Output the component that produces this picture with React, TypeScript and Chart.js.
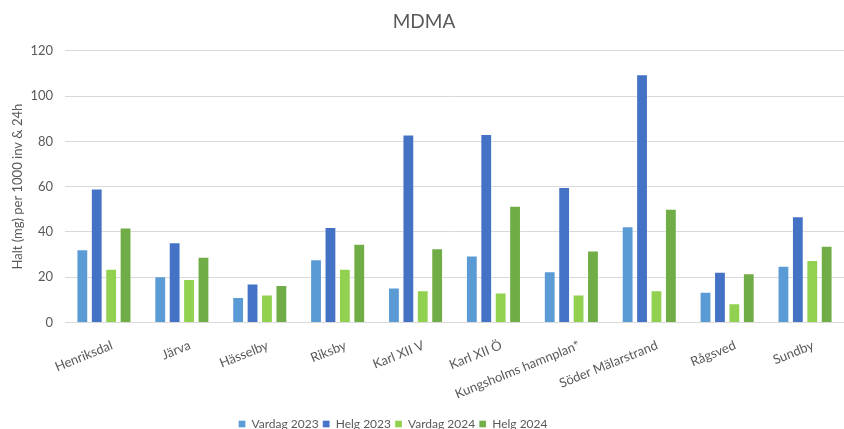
import React, { useEffect, useRef } from "react";
import { Chart, registerables } from "chart.js";

Chart.register(...registerables);

const categories = [
  "Henriksdal",
  "Järva",
  "Hässelby",
  "Riksby",
  "Karl XII V",
  "Karl XII Ö",
  "Kungsholms hamnplan*",
  "Söder Mälarstrand",
  "Rågsved",
  "Sundby",
];

const vardag2023 = [32.4, 20.4, 11.3, 27.9, 15.5, 29.6, 22.7, 42.5, 13.6, 25.1];
const helg2023 = [59.2, 35.4, 17.2, 42.2, 83.0, 83.3, 59.9, 109.6, 22.4, 46.9];
const vardag2024 = [23.7, 19.2, 12.4, 23.7, 14.3, 13.3, 12.4, 14.3, 8.5, 27.6];
const helg2024 = [42.0, 29.0, 16.6, 34.8, 32.8, 51.6, 31.8, 50.2, 21.8, 33.9];

const seriesNames = ["Vardag 2023", "Helg 2023", "Vardag 2024", "Helg 2024"];
const seriesColors = ["#5B9BD5", "#4472C4", "#92D050", "#70AD47"];

const shiftLegend = {
  id: "shiftLegend",
  afterLayout(chart: any) {
    const l = chart.legend;
    if (l) {
      l.left -= 31;
      l.right -= 31;
      l.top += 5;
      l.bottom += 5;
    }
  },
};

export default function App() {
  const ref = useRef<HTMLCanvasElement>(null);

  useEffect(() => {
    document.body.style.margin = "0";
    if (!ref.current) return;
    const data = [vardag2023, helg2023, vardag2024, helg2024];
    const chart = new Chart(ref.current, {
      type: "bar",
      data: {
        labels: categories,
        datasets: data.map((d, i) => ({
          label: seriesNames[i],
          data: d,
          backgroundColor: seriesColors[i],
          borderColor: "rgba(255,255,255,0.35)",
          borderWidth: 1,
          categoryPercentage: 0.74,
          barPercentage: 0.82,
        })),
      },
      plugins: [shiftLegend],
      options: {
        animation: false,
        responsive: false,
        maintainAspectRatio: false,
        layout: { padding: { left: 4, right: 0, top: 4, bottom: -6 } },
        plugins: {
          title: {
            display: true,
            text: "MDMA",
            color: "#595959",
            font: { family: "Lato", size: 19, weight: "normal" },
            padding: { top: 6, bottom: 18 },
          },
          legend: {
            position: "bottom",
            labels: {
              boxWidth: 7,
              boxHeight: 7,
              color: "#595959",
              font: { family: "Lato", size: 12 },
              padding: 4,
            },
          },
          tooltip: { enabled: false },
        },
        scales: {
          x: {
            grid: { display: false },
            border: { color: "#d9d9d9" },
            ticks: {
              color: "#595959",
              font: { family: "Lato", size: 13 },
              minRotation: 22,
              maxRotation: 22,
              autoSkip: false,
              padding: 7,
              labelOffset: 8,
            },
          },
          y: {
            min: 0,
            max: 120,
            afterFit(scale: any) {
              scale.width = 61;
            },
            ticks: {
              stepSize: 20,
              color: "#595959",
              font: { family: "Lato", size: 13 },
              padding: 12,
            },
            grid: { color: "#d9d9d9", drawTicks: false },
            border: { display: false },
            title: {
              display: true,
              text: "Halt (mg) per 1000 inv & 24h",
              color: "#595959",
              font: { family: "Lato", size: 13 },
              padding: { top: 6, bottom: 5 },
            },
          },
        },
      },
    });
    return () => chart.destroy();
  }, []);

  return (
    <div style={{ width: 844, height: 429 }}>
      <canvas ref={ref} width={844} height={429} style={{ width: 844, height: 429 }} />
    </div>
  );
}
